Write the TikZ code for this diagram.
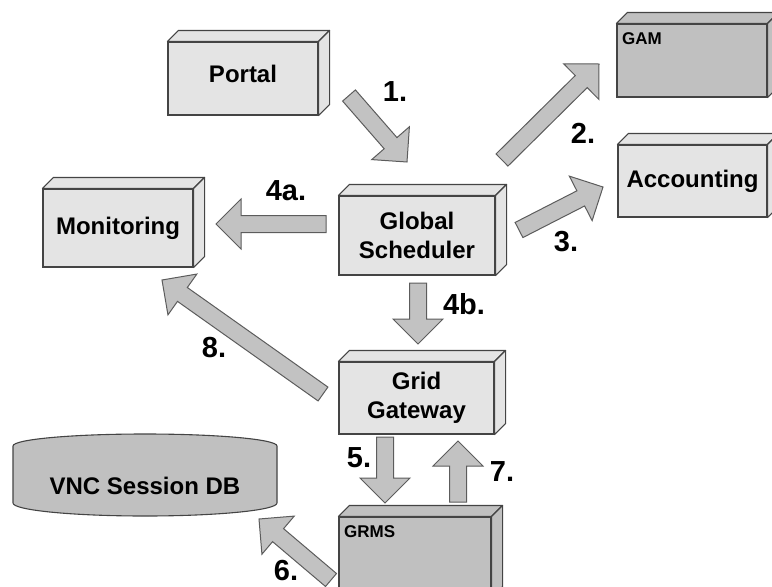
\documentclass[tikz,border=0pt]{standalone}
\usepackage{fontspec}
\setmainfont{Liberation Sans}
\usetikzlibrary{calc}

\definecolor{lightface}{HTML}{E4E4E4}
\definecolor{darkface}{HTML}{C0C0C0}
\definecolor{arrowfill}{HTML}{C2C2C2}
\definecolor{edgegray}{HTML}{444444}
\definecolor{arrowedge}{HTML}{5C5C5C}

% top and right faces of a solid block whose front face is the node #1
\newcommand\blockfaces[2]{%
  \filldraw[fill=#2, draw=edgegray, line width=1.1pt, line join=round]
    (#1.north west) -- ++(11,-11) -- ($(#1.north east)+(11,-11)$) -- (#1.north east) -- cycle;
  \filldraw[fill=#2, draw=edgegray, line width=1.1pt, line join=round]
    (#1.north east) -- ++(11,-11) -- ($(#1.south east)+(11,-11)$) -- (#1.south east) -- cycle;
}

% broad flat arrow from coordinate #1 to coordinate #2
\newcommand\blockarrow[2]{%
  \coordinate (hb) at ($(#2)!25pt!(#1)$);
  \filldraw[fill=arrowfill, draw=arrowedge, line width=1pt, line join=miter]
    ($(#1)!8.5pt!90:(#2)$) -- ($(hb)!8.5pt!90:(#2)$) -- ($(hb)!25pt!90:(#2)$)
    -- (#2) -- ($(hb)!25pt!-90:(#2)$) -- ($(hb)!8.5pt!-90:(#2)$)
    -- ($(#1)!8.5pt!-90:(#2)$) -- cycle;
}

\tikzset{
  block/.style={draw=edgegray, line width=1.1pt, fill=lightface, inner sep=0pt,
    align=center, font=\fontsize{24}{29}\selectfont\bfseries},
  darkblock/.style={block, fill=darkface},
  steplabel/.style={font=\fontsize{29}{30}\selectfont\bfseries, inner sep=0pt},
  smalllabel/.style={font=\fontsize{17}{19}\selectfont\bfseries, inner sep=0pt, anchor=west},
}

\begin{document}
\begin{tikzpicture}[x=1pt, y=-1pt]
\useasboundingbox (0,0) rectangle (772,587);
\clip (0,0) rectangle (772,587);

% ---------- blocks ----------
\node[block, minimum width=150, minimum height=73, text depth=10pt] (portal) at (243,78.5) {Portal};
\blockfaces{portal}{lightface}

\node[block, minimum width=150, minimum height=78] (mon) at (118,228) {Monitoring};
\blockfaces{mon}{lightface}

\node[block, minimum width=156, minimum height=79] (gs) at (417,235.5) {Global\\Scheduler};
\blockfaces{gs}{lightface}

\node[block, minimum width=155, minimum height=72] (gg) at (416.5,398) {Grid\\Gateway};
\blockfaces{gg}{lightface}

\node[darkblock, minimum width=150, minimum height=73] (gam) at (692,60.5) {};
\blockfaces{gam}{darkface}
\node[smalllabel] (gamtext) at (622,39) {GAM};

\node[block, minimum width=149, minimum height=72] (acc) at (692.5,181) {Accounting};
\blockfaces{acc}{lightface}

\node[darkblock, minimum width=152, minimum height=80] (grms) at (415,557) {};
\blockfaces{grms}{darkface}
\node[smalllabel] (grmstext) at (344,532) {GRMS};

% ---------- database drum ----------
\filldraw[fill=darkface, draw=edgegray, line width=1.1pt]
  (13,446) arc[start angle=180, end angle=0, x radius=132pt, y radius=12pt]
  -- (277,503) arc[start angle=0, end angle=-180, x radius=132pt, y radius=13pt]
  -- cycle;
\node[font=\fontsize{24}{29}\selectfont\bfseries, inner sep=0pt] (db) at (145,486) {VNC Session DB};

% ---------- arrow ends ----------
\coordinate (t1) at (349,95.5);  \coordinate (h1) at (407,162);
\coordinate (t2) at (502,160);   \coordinate (h2) at (599,64);
\coordinate (t3) at (519,230);   \coordinate (h3) at (603,187);
\coordinate (t4a) at (326,224);  \coordinate (h4a) at (216,224);
\coordinate (t4b) at (418,283);  \coordinate (h4b) at (418,344);
\coordinate (t5) at (385,437);   \coordinate (h5) at (385,503);
\coordinate (t6) at (331,580);   \coordinate (h6) at (259,519);
\coordinate (t7) at (458,502);   \coordinate (h7) at (458,441);
\coordinate (t8) at (323,394);   \coordinate (h8) at (162,280);

\blockarrow{t1}{h1}
\blockarrow{t2}{h2}
\blockarrow{t3}{h3}
\blockarrow{t4a}{h4a}
\blockarrow{t4b}{h4b}
\blockarrow{t5}{h5}
\blockarrow{t6}{h6}
\blockarrow{t7}{h7}
\blockarrow{t8}{h8}

% ---------- step numbers ----------
\node[steplabel] (n1) at (395,92) {1.};
\node[steplabel] (n2) at (583,133) {2.};
\node[steplabel] (n3) at (566,242) {3.};
\node[steplabel] (n4a) at (286,191) {4a.};
\node[steplabel] (n4b) at (464,304) {4b.};
\node[steplabel] (n5) at (359,458) {5.};
\node[steplabel] (n6) at (286,571) {6.};
\node[steplabel] (n7) at (502,472) {7.};
\node[steplabel] (n8) at (214,348) {8.};
\end{tikzpicture}
\end{document}
